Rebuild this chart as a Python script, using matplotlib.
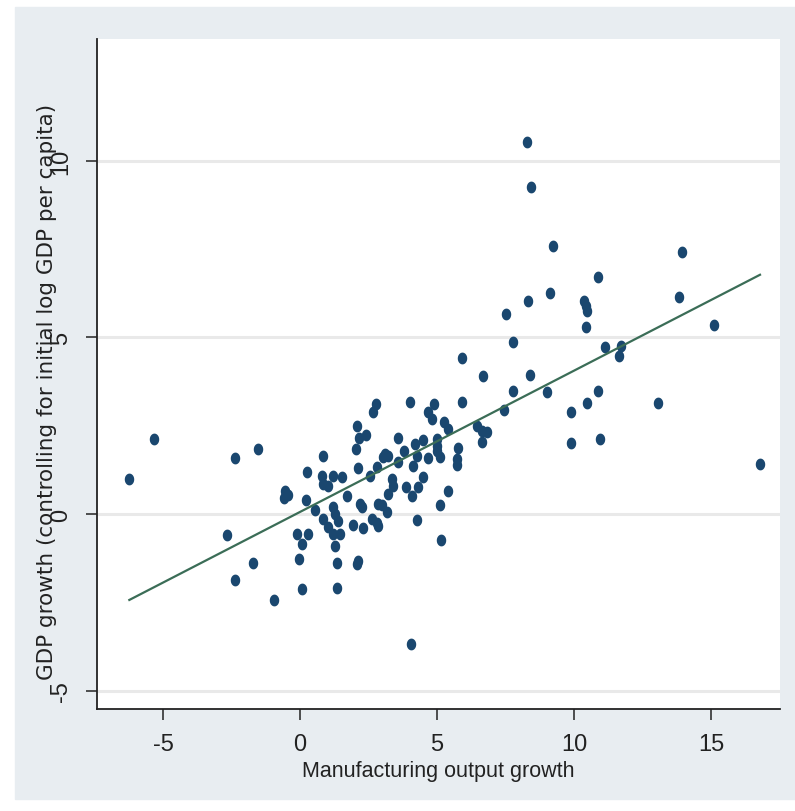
import numpy as np
import matplotlib.pyplot as plt
from matplotlib.patches import Rectangle
from matplotlib.path import Path

# Crescimento da produção manufatureira x crescimento do PIB (por país)
manuf_growth = [
    -6.23, -5.32, -2.37, -1.52, -2.68, -1.70, -2.37, -0.95, -0.02, 0.06,
    -0.55, -0.43, -0.58, 0.22, 0.55, 0.27, 0.85, 0.79, 1.22, 1.52,
    0.85, 1.03, 1.70, 1.22, 1.28, 1.40, 0.85, 1.03, 1.22, 1.46,
    -0.12, 0.30, 0.06, 1.28, 1.36, 1.34, 2.07, 2.13, 1.95, 2.31,
    2.19, 2.25, 2.62, 2.80, 2.83, 2.86, 2.98, 3.16, 4.26, 5.11,
    5.15, 4.05, 2.13, 2.55, 2.82, 3.35, 3.41, 3.22, 3.87, 4.08,
    4.32, 4.48, 5.39, 3.10, 3.22, 3.04, 3.81, 4.26, 4.14, 4.68,
    3.59, 2.04, 2.07, 2.17, 2.41, 3.56, 4.20, 4.50, 4.99, 4.99,
    5.01, 5.11, 5.78, 5.72, 5.72, 2.77, 2.65, 4.01, 4.90, 5.90,
    4.68, 4.81, 5.27, 5.39, 6.45, 6.63, 6.81, 6.63, 7.45, 7.79,
    9.00, 6.67, 8.38, 5.90, 7.79, 7.51, 8.31, 9.12, 10.36, 10.44,
    10.46, 10.44, 10.89, 11.15, 11.70, 11.65, 10.89, 10.46, 9.88, 9.89,
    10.95, 13.08, 13.93, 13.83, 15.11, 16.79, 8.27, 8.42, 9.22,
]
gdp_growth = [
    0.99, 2.12, 1.59, 1.84, -0.59, -1.39, -1.86, -2.43, -1.26, -2.11,
    0.66, 0.54, 0.44, 0.40, 0.11, 1.20, 1.65, 1.09, 1.09, 1.04,
    0.85, 0.78, 0.50, 0.19, 0.00, -0.19, -0.14, -0.38, -0.57, -0.57,
    -0.57, -0.57, -0.85, -0.90, -1.39, -2.08, -1.42, -1.32, -0.30, -0.40,
    0.28, 0.19, -0.14, -0.24, -0.33, 0.28, 0.25, 0.07, -0.17, 0.25,
    -0.73, -3.68, 1.29, 1.09, 1.32, 0.99, 0.80, 0.57, 0.76, 0.52,
    0.76, 1.06, 0.64, 1.70, 1.65, 1.61, 1.79, 1.65, 1.37, 1.58,
    1.48, 1.84, 2.48, 2.14, 2.24, 2.15, 1.98, 2.10, 2.12, 1.93,
    1.79, 1.62, 1.87, 1.56, 1.39, 3.12, 2.88, 3.16, 3.12, 3.18,
    2.88, 2.69, 2.60, 2.41, 2.50, 2.36, 2.33, 2.03, 2.95, 3.49,
    3.45, 3.92, 3.95, 4.41, 4.86, 5.65, 6.04, 6.26, 6.04, 5.90,
    5.76, 5.29, 6.72, 4.74, 4.77, 4.48, 3.49, 3.14, 2.88, 2.01,
    2.12, 3.14, 7.41, 6.14, 5.36, 1.42, 10.53, 9.25, 7.58,
]

x_ticks = [-5, 0, 5, 10, 15]
y_ticks = [-5, 0, 5, 10]

navy = '#1a476f'
fit_color = '#3b6d57'
sans = ['Liberation Sans', 'DejaVu Sans']

x = np.array(manuf_growth)
y = np.array(gdp_growth)

# reta de regressão (MQO) sobre os pontos
b, a = np.polyfit(x, y, 1)
xs = np.array([x.min(), x.max()])

# marcador elíptico (um pouco mais alto do que largo)
t = np.linspace(0, 2 * np.pi, 40)
ellipse = Path(np.column_stack([0.4 * np.cos(t), 0.5 * np.sin(t)]), closed=True)

fig = plt.figure(figsize=(7.95, 8.12), dpi=100, facecolor='white')
fig.patches.append(Rectangle((15 / 795, 1 - 800 / 812), 1, 792 / 812,
                             transform=fig.transFigure, color='#e8edf1', zorder=-10))

ax = fig.add_axes([97 / 795, 1 - 710 / 812, 683 / 795, 670 / 812])
ax.set_facecolor('white')

for yt in y_ticks:
    ax.axhline(yt, color='#e9e9e9', lw=2.2, zorder=1)

ax.plot(x, y, linestyle='none', marker=ellipse, markersize=8.5,
        color=navy, markeredgewidth=0, zorder=3)
ax.plot(xs, a + b * xs, color=fit_color, lw=1.6, zorder=4)

ax.set_xlim(-7.41, 17.52)
ax.set_ylim(-5.52, 13.45)

ax.set_xticks(x_ticks)
ax.set_yticks(y_ticks)
ax.set_xticklabels([str(v) for v in x_ticks], family=sans, fontsize=17)
ax.set_yticklabels([str(v) for v in y_ticks], family=sans, fontsize=17,
                   rotation=90, va='center')
ax.tick_params(axis='both', length=8, width=1.1, color='#222222',
               labelcolor='#222222', direction='out')
ax.tick_params(axis='x', pad=9)
ax.tick_params(axis='y', pad=10)

for side in ['top', 'right']:
    ax.spines[side].set_visible(False)
for side in ['left', 'bottom']:
    ax.spines[side].set_color('#222222')
    ax.spines[side].set_linewidth(1.3)

ax.set_xlabel('Manufacturing output growth', family=sans, fontsize=15.5,
              color='#222222')
ax.xaxis.set_label_coords(0.5, -0.076)
ax.set_ylabel('GDP growth (controlling for initial log GDP per capita)',
              family='DejaVu Sans', fontsize=15.5, color='#222222')
ax.yaxis.set_label_coords(-0.058, 0.475)

fig.savefig('out.png', dpi=100, facecolor=fig.get_facecolor())
